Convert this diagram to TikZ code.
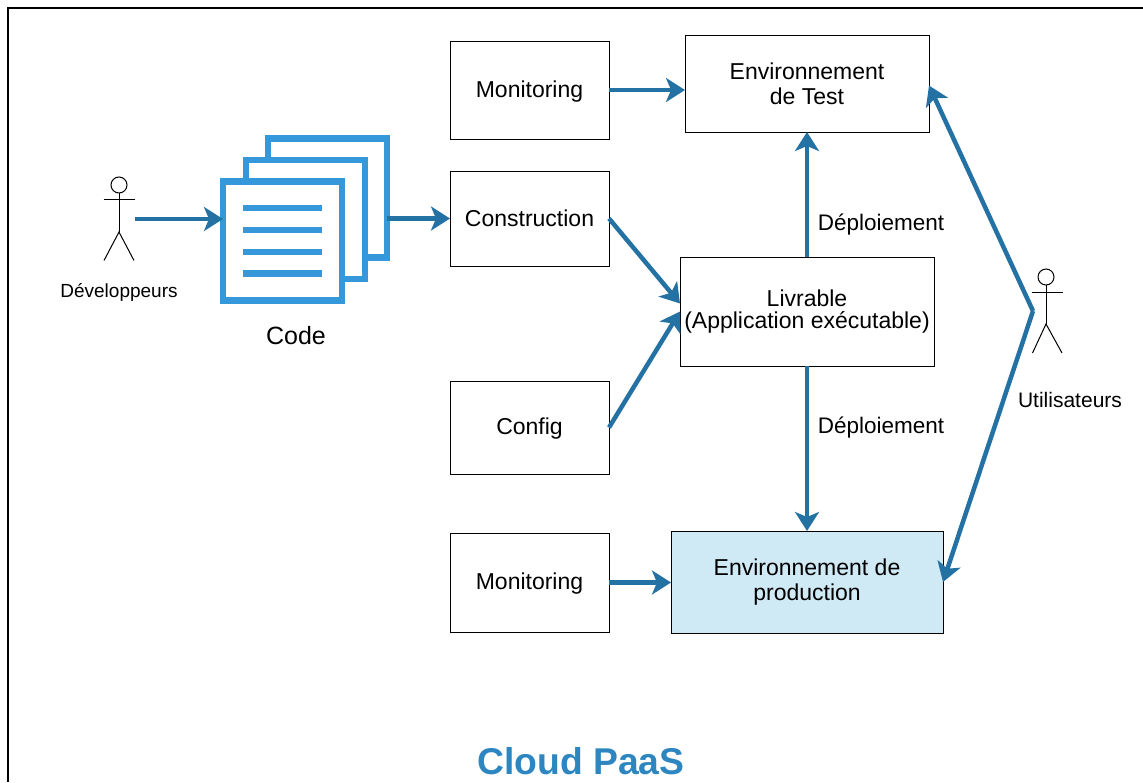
\documentclass[tikz,border=0pt]{standalone}
\usepackage{fontspec}
\setmainfont{Liberation Sans}
\usetikzlibrary{arrows.meta}
\definecolor{flowblue}{HTML}{2471A3}
\definecolor{pageblue}{HTML}{3498DB}
\definecolor{titleblue}{HTML}{2E86C1}
\definecolor{prodfill}{HTML}{CFE9F5}
\tikzset{
  stepbox/.style={draw,line width=1pt,inner sep=0pt,outer sep=0pt,align=center,font=\fontsize{23}{25}\selectfont},
  flow/.style={draw=flowblue,line width=4.5pt,-{Stealth[length=19pt,width=24pt,inset=5pt]}},
  codepage/.style={draw=pageblue,fill=white,line width=6.5pt,inner sep=0pt,outer sep=0pt,minimum size=119pt},
  codeline/.style={draw=pageblue,line width=6.5pt},
  stick/.style={draw,line width=1pt},
  deplabel/.style={inner sep=0pt,font=\fontsize{22.5}{25}\selectfont}
}
\begin{document}
\begin{tikzpicture}[x=1pt,y=-1pt]
\useasboundingbox (0,0) rectangle (1143,782);
\draw[line width=2pt] (8,782)--(8,8)--(1143,8);

\node[codepage] (backpage) at (327.5,198) {};
\node[codepage] (midpage) at (305.5,219.5) {};
\node[codepage] (frontpage) at (282.5,241) {};
\draw[codeline] (243,208)--(322,208);
\draw[codeline] (243,230)--(322,230);
\draw[codeline] (243,252)--(322,252);
\draw[codeline] (243,273.5)--(322,273.5);
\node[inner sep=0pt,font=\fontsize{25}{28}\selectfont] (codelabel) at (296,336) {Code};

\draw[stick] (119,185) circle (8);
\draw[stick] (119,193)--(119,232);
\draw[stick] (103.5,199.5)--(135,199.5);
\draw[stick] (104,260.5)--(119,232)--(134,260.5);
\node[inner sep=0pt,font=\fontsize{19}{24}\selectfont] (devlabel) at (119,292) {Développeurs};
\coordinate (devhand) at (135,219);

\draw[stick] (1046,277) circle (8);
\draw[stick] (1046,285)--(1046,324);
\draw[stick] (1031.5,292.5)--(1063,292.5);
\draw[stick] (1032.5,353)--(1046,324)--(1062,353);
\node[inner sep=0pt,font=\fontsize{21}{24}\selectfont] (userlabel) at (1070,400) {Utilisateurs};
\coordinate (userhand) at (1033,311);

\node[stepbox,text depth=2pt,minimum width=159pt,minimum height=98pt] (montest) at (529.5,90) {Monitoring};
\node[stepbox,minimum width=159pt,minimum height=95pt] (build) at (529.5,218.5) {Construction};
\node[stepbox,text depth=2pt,minimum width=159pt,minimum height=93pt] (config) at (529.5,427.5) {Config};
\node[stepbox,text depth=2pt,minimum width=159pt,minimum height=99pt] (monprod) at (529.5,582.5) {Monitoring};
\node[stepbox,minimum width=244pt,minimum height=97pt] (testenv) at (807,83.5) {Environnement\\de Test};
\node[stepbox,minimum width=254pt,minimum height=109pt,font=\fontsize{23}{22}\selectfont] (artifact) at (807,311.5) {Livrable\\(Application exécutable)};
\node[stepbox,fill=prodfill,minimum width=272pt,minimum height=102pt] (prodenv) at (807,582) {Environnement de\\production};
\node[deplabel] (deptest) at (881,225) {Déploiement};
\node[deplabel] (depprod) at (881,428) {Déploiement};
\node[font=\bfseries\fontsize{37.3}{42}\selectfont,text=titleblue,inner sep=0pt] (cloudtitle) at (581,761) {Cloud PaaS};

\draw[flow] (devhand)--(frontpage.west |- devhand);
\draw[flow] (backpage.east |- build.west)--(build.west);
\draw[flow] (montest.east)--(testenv.west |- montest.east);
\draw[flow] (monprod.east)--(prodenv.west |- monprod.east);
\draw[flow] (build.east)--([yshift=8pt]artifact.west);
\draw[flow] (config.east)--(artifact.west);
\draw[flow] (artifact.north)--(testenv.south);
\draw[flow] (artifact.south)--(prodenv.north);
\draw[flow] (userhand)--([yshift=-2pt]testenv.east);
\draw[flow] (userhand)--(prodenv.east);
\end{tikzpicture}
\end{document}
